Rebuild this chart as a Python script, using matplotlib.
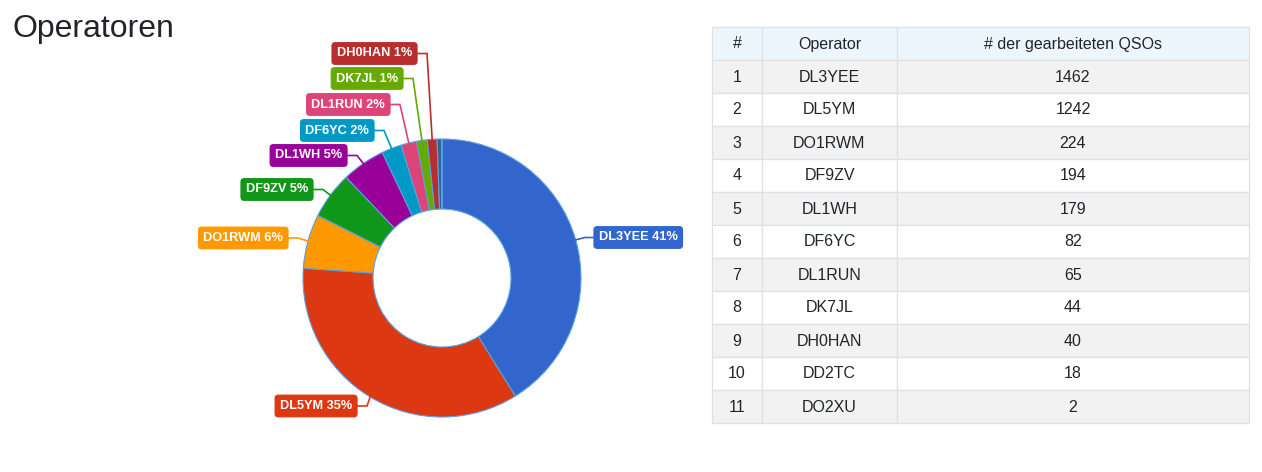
import numpy as np
import matplotlib.pyplot as plt
from matplotlib.patches import Rectangle

plt.rcParams['font.family'] = ['Liberation Sans', 'DejaVu Sans']

# Daten
operators = ['DL3YEE', 'DL5YM', 'DO1RWM', 'DF9ZV', 'DL1WH', 'DF6YC',
             'DL1RUN', 'DK7JL', 'DH0HAN', 'DD2TC', 'DO2XU']
qsos = [1462, 1242, 224, 194, 179, 82, 65, 44, 40, 18, 2]
colors = ['#3366cc', '#dc3912', '#ff9900', '#109618', '#990099', '#0099c6',
          '#dd4477', '#66aa00', '#b82e2e', '#316395', '#994499']
table_header = ['#', 'Operator', '# der gearbeiteten QSOs']

# Label-Positionen (Seite, Kante der Box in px, Mitte y in px)
label_pos = [('r', 594, 237.5), ('l', 357, 406), ('l', 288, 238),
             ('l', 313, 189.5), ('l', 347, 155.5), ('l', 374, 130.5),
             ('l', 390, 104.5), ('l', 403, 78.5), ('l', 417, 53.5)]

W, H = 1262, 472
fig = plt.figure(figsize=(W / 100, H / 100), dpi=100)
ax = fig.add_axes([0, 0, 1, 1])

cx, cy, r_out, ring = 442, 278, 139, 70
wedges, _ = ax.pie(qsos, colors=colors, startangle=-90, counterclock=True,
                   center=(cx, cy), radius=r_out,
                   wedgeprops=dict(width=ring, edgecolor='#5aa0e0', linewidth=0.8))

ax.set_xlim(0, W)
ax.set_ylim(H, 0)
ax.set_aspect('equal')
ax.axis('off')

total = sum(qsos)
for i, (side, edge, ly) in enumerate(label_pos):
    w = wedges[i]
    th = np.deg2rad((w.theta1 + w.theta2) / 2)
    px, py = cx + r_out * np.cos(th), cy + r_out * np.sin(th)
    ex = edge - 9 if side == 'r' else edge + 10
    ax.plot([px, ex, edge], [py, ly, ly], color=colors[i], lw=1.2,
            solid_joinstyle='miter', zorder=3)
    pct = round(qsos[i] / total * 100)
    txt = f'{operators[i]} {pct}%'
    pad = 4.8
    if side == 'r':
        tx, ha = edge + pad, 'left'
    else:
        tx, ha = edge - pad, 'right'
    ax.text(tx, ly, txt, ha=ha, va='center', color='white', fontsize=9.2,
            fontweight='bold', zorder=4,
            bbox=dict(boxstyle='round,pad=0.38,rounding_size=0.25',
                      fc=colors[i], ec=colors[i], lw=0.8))

# Titel
ax.text(12, 29, 'Operatoren', fontsize=23, color='#212529', ha='left', va='center')

# Tabelle
col_x = [712, 762, 897, 1249]
top, rh = 27, 33
rows = [[str(i + 1), operators[i], str(qsos[i])] for i in range(len(operators))]
all_rows = [table_header] + rows
for ri, row in enumerate(all_rows):
    y0 = top + ri * rh
    if ri == 0:
        bg = '#eef6fd'
    elif ri % 2 == 1:
        bg = '#f2f2f2'
    else:
        bg = 'white'
    for ci in range(3):
        ax.add_patch(Rectangle((col_x[ci], y0), col_x[ci + 1] - col_x[ci], rh,
                               facecolor=bg, edgecolor='#dee2e6', lw=0.9))
        ax.text((col_x[ci] + col_x[ci + 1]) / 2, y0 + rh / 2 + 0.5, row[ci],
                ha='center', va='center', fontsize=11.5, color='#212529')

fig.savefig('out.png', dpi=100)
